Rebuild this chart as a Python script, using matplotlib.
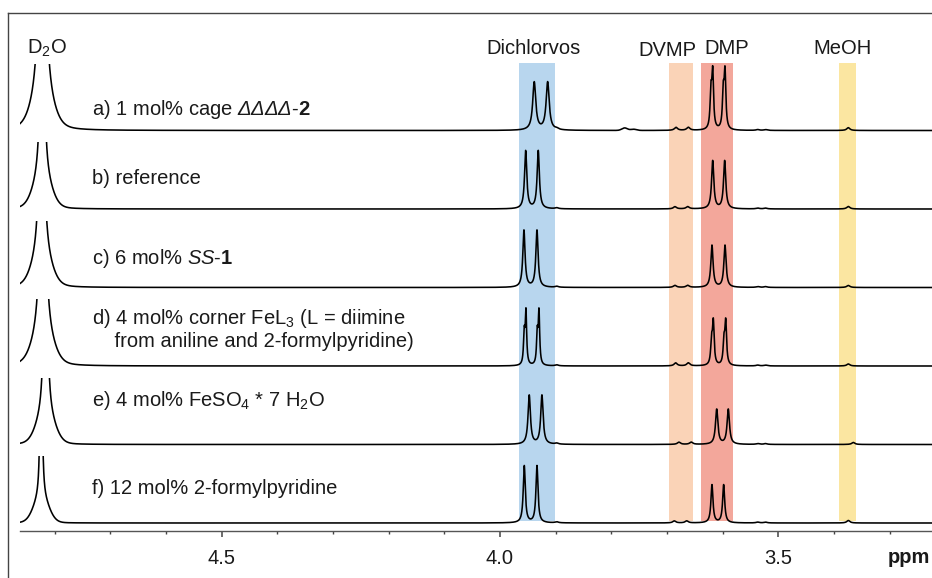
import numpy as np
import matplotlib
matplotlib.use("Agg")
import matplotlib.pyplot as plt
from matplotlib.lines import Line2D
from matplotlib.ticker import MultipleLocator
from matplotlib.transforms import Bbox, TransformedBbox

plt.rcParams['font.family'] = ['Liberation Sans', 'DejaVu Sans']
plt.rcParams['mathtext.fontset'] = 'custom'
plt.rcParams['mathtext.rm'] = 'Liberation Sans'
plt.rcParams['mathtext.it'] = 'Liberation Sans:italic'
plt.rcParams['mathtext.bf'] = 'Liberation Sans:bold'
# italic slot usable for Greek capitals (mathit keeps them upright)
plt.rcParams['mathtext.sf'] = 'Liberation Sans:italic'

# ---------------------------------------------------------------- data
sample_labels = [
    r"a) 1 mol% cage $\mathsf{ΔΔΔΔ}$-$\mathbf{2}$",
    "b) reference",
    r"c) 6 mol% $\mathit{SS}$-$\mathbf{1}$",
    "d) 4 mol% corner FeL$_3$ (L = diimine\n    from aniline and 2-formylpyridine)",
    "e) 4 mol% FeSO$_4$ * 7 H$_2$O",
    "f) 12 mol% 2-formylpyridine",
]

# residual solvent (D2O) signal: sharp spike on a broader skirt
d2o_ppm = [4.822, 4.822, 4.823, 4.821, 4.816, 4.824]
d2o_spike_h = [400, 362, 303, 338, 398, 521]
d2o_spike_w = [0.0045, 0.0027, 0.0036, 0.0040, 0.0023, 0.0011]
d2o_skirt_h = [30, 30, 30, 30, 30, 25]
d2o_skirt_w = [0.0170, 0.0150, 0.0158, 0.0168, 0.0150, 0.0130]

# dichlorvos P-OMe doublet (main line + optional shoulder line)
dichlorvos_ppm = [(3.9384, 3.9143), (3.9538, 3.9312), (3.9569, 3.9335),
                  (3.9533, 3.9299), (3.9474, 3.9246), (3.9563, 3.9335)]
dichlorvos_h = [48, 58, 57, 52, 49, 57]
dichlorvos_w = [0.0033, 0.0024, 0.0024, 0.0015, 0.0026, 0.0022]
dichlorvos_shoulder_h = [0, 0, 0, 30, 0, 0]

# DMP doublet (main line + optional shoulder line)
dmp_ppm = [(3.6179, 3.5958), (3.6179, 3.5964), (3.6192, 3.5958),
           (3.6168, 3.5945), (3.6107, 3.5899), (3.6192, 3.5982)]
dmp_h = [55, 48, 42, 42, 35, 38]
dmp_w = [0.0018, 0.0024, 0.0024, 0.0018, 0.0026, 0.0022]
dmp_shoulder_h = [35, 0, 0, 22, 0, 0]

# DVMP doublet (weak)
dvmp_ppm = [(3.6838, 3.6617), (3.6857, 3.6628), (3.6857, 3.6628),
            (3.6844, 3.6617), (3.6785, 3.6564), (3.6869, 3.6646)]
dvmp_h = [3.0, 2.2, 2.0, 3.0, 2.2, 2.0]

# methanol singlet (weak)
meoh_ppm = [3.3743, 3.3743, 3.3743, 3.3743, 3.3653, 3.3743]
meoh_h = [2.8, 2.5, 2.0, 2.0, 2.0, 2.5]

# small baseline features common to all spectra
blip_ppm = [3.898, 3.537, 3.523]
blip_h = [1.0, 0.8, 0.8]

# extra broad humps in spectrum a
extra_a_ppm = [3.776, 3.760]
extra_a_h = [2.5, 1.2]

# highlighted regions (ppm ranges)
band_names = ["Dichlorvos", "DVMP", "DMP", "MeOH"]
band_ranges = [(3.9659, 3.9012), (3.6964, 3.6539), (3.6389, 3.5814), (3.3908, 3.3603)]
band_colors = ["#B8D6EE", "#FAD3B7", "#F3A79B", "#FBE6A1"]
header_ppm = [3.9395, 3.6991, 3.5928, 3.3842]

major_ticks = [4.5, 4.0, 3.5]
major_labels = ["4.5", "4.0", "3.5"]

# ---------------------------------------------------------------- helpers
def lorentz(x, x0, h, w):
    return h / (1.0 + ((x - x0) / w) ** 2)


def gauss(x, x0, h, s):
    return h * np.exp(-0.5 * ((x - x0) / s) ** 2)


X_LEFT, X_RIGHT = 4.862, 3.224
x = np.linspace(X_LEFT, X_RIGHT, 24000)

W, H = 932, 578
fig = plt.figure(figsize=(W / 100, H / 100), dpi=100)
ax = fig.add_axes([20 / W, (H - 530.5) / H, 1 - 20 / W, (530.5 - 12) / H])
YMAX = 518.5
ax.set_xlim(X_LEFT, X_RIGHT)
ax.set_ylim(0, YMAX)

# highlighted regions
for (a0, a1), col in zip(band_ranges, band_colors):
    ax.axvspan(a0, a1, ymin=9.5 / YMAX, ymax=468 / YMAX, color=col, lw=0, zorder=0)

ROW_STEP = 78.5
TOP_BASE = 400.0
CLIP = 67.0
small_w = 0.0034
shoulder_shift = 0.0031

for i in range(len(sample_labels)):
    base = TOP_BASE - ROW_STEP * i
    y = np.zeros_like(x)
    y += lorentz(x, d2o_ppm[i], d2o_spike_h[i], d2o_spike_w[i])
    y += gauss(x, d2o_ppm[i], d2o_skirt_h[i], d2o_skirt_w[i])
    for p in dichlorvos_ppm[i]:
        y += lorentz(x, p, dichlorvos_h[i], dichlorvos_w[i])
        if dichlorvos_shoulder_h[i]:
            y += lorentz(x, p + shoulder_shift, dichlorvos_shoulder_h[i], dichlorvos_w[i])
    for p in dmp_ppm[i]:
        y += lorentz(x, p, dmp_h[i], dmp_w[i])
        if dmp_shoulder_h[i]:
            y += lorentz(x, p + shoulder_shift, dmp_shoulder_h[i], dmp_w[i])
    for p in dvmp_ppm[i]:
        y += lorentz(x, p, dvmp_h[i], small_w)
    y += lorentz(x, meoh_ppm[i], meoh_h[i], small_w)
    for p, h in zip(blip_ppm, blip_h):
        y += lorentz(x, p, h, small_w)
    if i == 0:
        for p, h in zip(extra_a_ppm, extra_a_h):
            y += gauss(x, p, h, 0.005)

    line, = ax.plot(x, base + y, color="#000000", lw=1.15, zorder=3)
    clip = TransformedBbox(Bbox([[X_LEFT, base - 10], [X_RIGHT, base + CLIP]]), ax.transData)
    line.set_clip_box(clip)

# sample labels
LABEL_X = 4.7329
label_base = [415.7, 346.7, 266.0, 206.0, 124.0, 36.0]
for lab, yb in zip(sample_labels, label_base):
    for j, part in enumerate(lab.split("\n")):
        ax.text(LABEL_X, yb - 22.7 * j, part, fontsize=14.5, ha="left",
                va="baseline", color="#1a1a1a", zorder=5)

# headers
ax.text(4.8137, 476.7, "D$_2$O", fontsize=14.5, ha="center", va="baseline", color="#1a1a1a")
for name, hp in zip(band_names, header_ppm):
    yb = 475.0 if name == "DVMP" else 476.7
    ax.text(hp, yb, name, fontsize=14.5, ha="center", va="baseline", color="#1a1a1a")

# axes styling
for s in ("left", "right", "top"):
    ax.spines[s].set_visible(False)
ax.spines["bottom"].set_color("#555555")
ax.spines["bottom"].set_linewidth(1.0)
ax.set_yticks([])
ax.set_xticks(major_ticks)
ax.set_xticklabels(major_labels)
ax.xaxis.set_minor_locator(MultipleLocator(0.1))
ax.tick_params(axis="x", which="major", length=4.5, width=1.1, color="#444444",
               labelsize=14.5, labelcolor="#1a1a1a", pad=9)
ax.tick_params(axis="x", which="minor", length=2.2, width=1.0, color="#444444")
ax.patch.set_alpha(0)

fig.text(930 / W, 1 - 563 / H, "ppm", fontsize=14.5, fontweight="bold",
         ha="right", va="baseline", color="#1a1a1a")

# outer frame
fx = 8.3 / W
fy = 1 - 13 / H
fig.add_artist(Line2D([fx, fx], [0, fy], transform=fig.transFigure, color="#444444", lw=1.0))
fig.add_artist(Line2D([fx, 1], [fy, fy], transform=fig.transFigure, color="#444444", lw=1.0))

fig.savefig("out.png", dpi=100)
